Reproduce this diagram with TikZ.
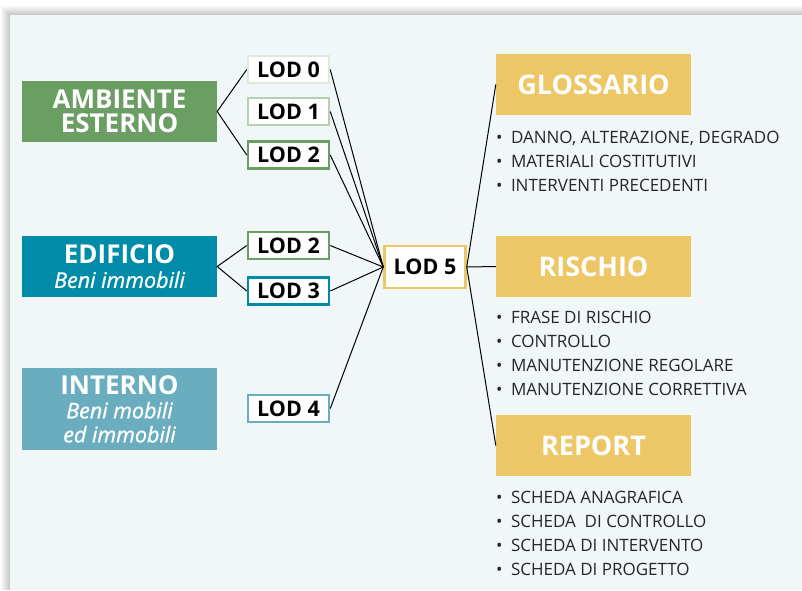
\documentclass[tikz,border=0pt]{standalone}
\usepackage{fontspec}
\setmainfont{Open Sans}
\usetikzlibrary{positioning}

\definecolor{pannello}{HTML}{F1F6F9}
\definecolor{verde}{HTML}{6B9E63}
\definecolor{verdechiaro}{HTML}{B7D0B1}
\definecolor{verdetenue}{HTML}{DDE9D9}
\definecolor{petrolio}{HTML}{008BA8}
\definecolor{azzurro}{HTML}{6AADBF}
\definecolor{giallo}{HTML}{EDC766}

\newcommand{\voce}[1]{\makebox[15pt][l]{\textbullet}#1}
\newcommand{\sottotit}{\mdseries\itshape\fontsize{21.5}{24}\selectfont\addfontfeature{FakeBold=1}}

\begin{document}
\begin{tikzpicture}[x=1pt, y=-1pt,
    cat/.style={fill=#1, text=white, minimum width=195pt, minimum height=61pt, inner sep=0pt, align=center, font=\bfseries\fontsize{26}{24}\selectfont},
    lod/.style={draw=#1, line width=2.5pt, fill=white, minimum width=81pt, minimum height=27pt, inner sep=0pt, font=\bfseries\fontsize{21.5}{24}\selectfont},
    tit/.style={fill=giallo, text=white, minimum width=195pt, minimum height=61pt, inner sep=0pt, font=\bfseries\fontsize{27}{30}\selectfont},
    lst/.style={inner sep=0pt, align=left, font=\fontsize{17}{24}\selectfont, text=black!85},
    ln/.style={line width=1pt}
]
\useasboundingbox (0,0) rectangle (802,590);
\fill[white] (0,0) rectangle (802,590);
% ombra del pannello
\foreach \i in {1,...,9}
    \fill[black, opacity=0.025] (10-\i,15-\i) rectangle (802,590);
\fill[pannello] (10,15) rectangle (802,590);

% categorie
\node[cat=verde] (amb) at (119.5,111.5) {AMBIENTE\\ESTERNO};
\node[cat=petrolio] (edi) at (119.5,266.5) {EDIFICIO\\{\sottotit Beni immobili}};
\node[cat=azzurro, minimum height=82pt] (int) at (119.5,409) {INTERNO\\{\sottotit Beni mobili}\\{\sottotit ed immobili}};

% livelli
\node[lod=verdetenue] (lod0) at (288.5,69.5) {LOD 0};
\node[lod=verdechiaro] (lod1) at (288.5,111.5) {LOD 1};
\node[lod=verde] (lod2a) at (288.5,155) {LOD 2};
\node[lod=verde] (lod2b) at (288.5,245.5) {LOD 2};
\node[lod=petrolio] (lod3) at (288.5,291) {LOD 3};
\node[lod=azzurro] (lod4) at (288.5,408.5) {LOD 4};
\node[lod=giallo, minimum height=42pt] (lod5) at (425,267) {LOD 5};

% sezioni
\node[tit] (glos) at (593.5,84.5) {GLOSSARIO};
\node[tit] (risc) at (593.5,266.5) {RISCHIO};
\node[tit] (rep) at (593.5,445.5) {REPORT};

\node[lst, below=16pt of glos.south west, anchor=north west] (lglos) {\voce{DANNO, ALTERAZIONE, DEGRADO}\\\voce{MATERIALI COSTITUTIVI}\\\voce{INTERVENTI PRECEDENTI}};
\node[lst, below=14pt of risc.south west, anchor=north west] (lrisc) {\voce{FRASE DI RISCHIO}\\\voce{CONTROLLO}\\\voce{MANUTENZIONE REGOLARE}\\\voce{MANUTENZIONE CORRETTIVA}};
\node[lst, below=15pt of rep.south west, anchor=north west] (lrep) {\voce{SCHEDA ANAGRAFICA}\\\voce{SCHEDA\ \ DI CONTROLLO}\\\voce{SCHEDA DI INTERVENTO}\\\voce{SCHEDA DI PROGETTO}};

% collegamenti
\draw[ln] (lod0.west) -- (amb.east) -- (lod2a.west);
\draw[ln] (lod2b.west) -- (edi.east) -- (lod3.west);
\draw[ln] (lod0.east) -- (lod5.west);
\draw[ln] (lod1.east) -- (lod5.west);
\draw[ln] (lod2a.east) -- (lod5.west);
\draw[ln] (lod2b.east) -- (lod5.west);
\draw[ln] (lod3.east) -- (lod5.west);
\draw[ln] (lod4.east) -- (lod5.west);
\draw[ln] (lod5.east) -- (glos.west);
\draw[ln] (lod5.east) -- (risc.west);
\draw[ln] (lod5.east) -- (rep.west);
\end{tikzpicture}
\end{document}
